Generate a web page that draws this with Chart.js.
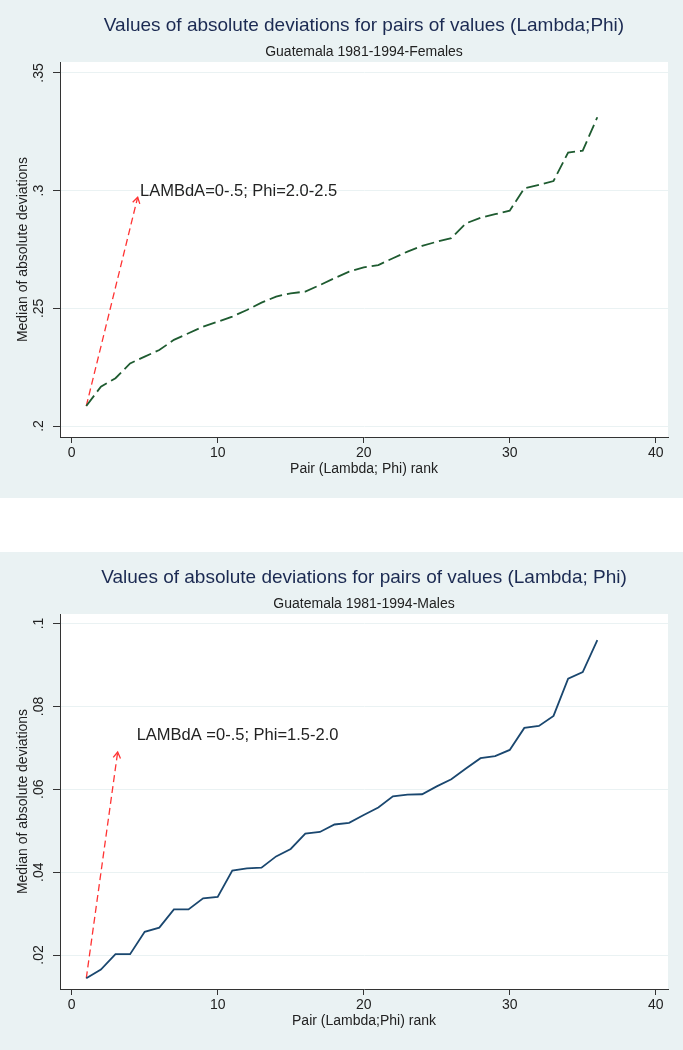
<!DOCTYPE html>
<html lang="en">
<head>
    <meta charset="UTF-8">
    <title>Values of absolute deviations for pairs of values (Lambda;Phi)</title>
    <script src="https://cdn.jsdelivr.net/npm/chart.js"></script>
    <style>
        body { margin: 0; background: #FFFFFF; font-family: 'Liberation Sans', Arial, sans-serif; }
        .panel { position: absolute; left: 0; width: 683px; height: 498px; background: #EAF2F3; }
        #top { top: 0; }
        #bottom { top: 552px; }
    </style>
</head>
<body>
    <div class="panel" id="top"><canvas id="femalesChart" width="683" height="498"></canvas></div>
    <div class="panel" id="bottom"><canvas id="malesChart" width="683" height="498"></canvas></div>

    <script>
        // pair rank (x)
        const ranks = [1, 2, 3, 4, 5, 6, 7, 8, 9, 10, 11, 12, 13, 14, 15, 16, 17, 18,
                       19, 20, 21, 22, 23, 24, 25, 26, 27, 28, 29, 30, 31, 32, 33, 34, 35, 36];

        // median of absolute deviations, females
        const femalesMad = [0.2085, 0.2167, 0.2203, 0.2266, 0.2295, 0.2323, 0.2366, 0.2394, 0.2422,
                            0.2443, 0.2465, 0.2493, 0.2524, 0.2550, 0.2564, 0.2571, 0.2599, 0.2628,
                            0.2656, 0.2674, 0.2684, 0.2713, 0.2741, 0.2765, 0.2783, 0.2798, 0.2861,
                            0.2885, 0.2900, 0.2915, 0.3010, 0.3025, 0.3041, 0.3162, 0.3170, 0.3312];

        // median of absolute deviations, males
        const malesMad = [0.0144, 0.0165, 0.0202, 0.0202, 0.0256, 0.0266, 0.0310, 0.0310, 0.0337,
                          0.0340, 0.0404, 0.0409, 0.0411, 0.0438, 0.0456, 0.0493, 0.0497, 0.0515,
                          0.0519, 0.0538, 0.0556, 0.0583, 0.0587, 0.0588, 0.0607, 0.0624, 0.0650,
                          0.0675, 0.0680, 0.0695, 0.0748, 0.0753, 0.0777, 0.0867, 0.0883, 0.0960];

        const xTicks = [0, 10, 20, 30, 40];
        const femalesYTicks = [0.2, 0.25, 0.3, 0.35];
        const femalesYLabels = ['.2', '.25', '.3', '.35'];
        const malesYTicks = [0.02, 0.04, 0.06, 0.08, 0.1];
        const malesYLabels = ['.02', '.04', '.06', '.08', '.1'];

        // annotation arrows (start, tip) and label anchors
        const femalesArrowX = [1, 4.52];
        const femalesArrowY = [0.2085, 0.2972];
        const femalesNote = 'LAMBdA=0-.5; Phi=2.0-2.5';
        const femalesNoteAt = [4.68, 0.2996];
        const malesArrowX = [1, 3.15];
        const malesArrowY = [0.0144, 0.0690];
        const malesNote = 'LAMBdA =0-.5; Phi=1.5-2.0';
        const malesNoteAt = [4.45, 0.0731];

        const FONT = "'Liberation Sans', Arial, sans-serif";
        const BG = '#EAF2F3';
        const AXIS = '#333333';
        const TEXT = '#222222';

        const stataPlugin = {
            id: 'stata',
            beforeDraw(chart) {
                const { ctx, chartArea: a } = chart;
                ctx.save();
                ctx.fillStyle = '#FFFFFF';
                ctx.fillRect(a.left, a.top, a.right - a.left, a.bottom - a.top);
                ctx.restore();
            },
            afterDraw(chart) {
                const o = chart.options.plugins.stata;
                const { ctx } = chart;
                const xs = chart.scales.x, ys = chart.scales.y;

                // rotated y tick labels
                ctx.save();
                ctx.font = '14px ' + FONT;
                ctx.fillStyle = TEXT;
                ctx.textAlign = 'center';
                ctx.textBaseline = 'middle';
                o.yTicks.forEach((v, i) => {
                    ctx.save();
                    ctx.translate(ys.right - 20.5, ys.getPixelForValue(v));
                    ctx.rotate(-Math.PI / 2);
                    ctx.fillText(o.yLabels[i], 0, 0);
                    ctx.restore();
                });
                ctx.restore();

                // open arrow head
                const x0 = xs.getPixelForValue(o.arrowX[0]), y0 = ys.getPixelForValue(o.arrowY[0]);
                const x1 = xs.getPixelForValue(o.arrowX[1]), y1 = ys.getPixelForValue(o.arrowY[1]);
                const ang = Math.atan2(y1 - y0, x1 - x0);
                const len = 7, spread = 0.55;
                ctx.save();
                ctx.strokeStyle = '#FF3333';
                ctx.lineWidth = 1.3;
                ctx.beginPath();
                ctx.moveTo(x1 - len * Math.cos(ang - spread), y1 - len * Math.sin(ang - spread));
                ctx.lineTo(x1, y1);
                ctx.lineTo(x1 - len * Math.cos(ang + spread), y1 - len * Math.sin(ang + spread));
                ctx.stroke();
                ctx.restore();

                // note text
                ctx.save();
                ctx.font = '16.5px ' + FONT;
                ctx.fillStyle = TEXT;
                ctx.textAlign = 'left';
                ctx.textBaseline = 'middle';
                ctx.fillText(o.note, xs.getPixelForValue(o.noteAt[0]), ys.getPixelForValue(o.noteAt[1]));
                ctx.restore();
            }
        };

        function makeChart(id, cfg) {
            const series = ranks.map((r, i) => ({ x: r, y: cfg.values[i] }));
            const arrow = cfg.arrowX.map((v, i) => ({ x: v, y: cfg.arrowY[i] }));
            return new Chart(document.getElementById(id), {
                type: 'line',
                data: {
                    datasets: [{
                        data: series,
                        borderColor: cfg.color,
                        borderWidth: 1.8,
                        borderDash: cfg.dash,
                        pointRadius: 0,
                        tension: 0
                    }, {
                        data: arrow,
                        borderColor: '#FF3333',
                        borderWidth: 1.3,
                        borderDash: [7, 4],
                        pointRadius: 0,
                        tension: 0
                    }]
                },
                options: {
                    responsive: false,
                    animation: false,
                    devicePixelRatio: 1,
                    layout: { padding: { left: 0, right: 15, top: 0, bottom: 0 } },
                    plugins: {
                        legend: { display: false },
                        tooltip: { enabled: false },
                        title: {
                            display: true,
                            text: cfg.title,
                            fullSize: false,
                            color: '#1B2A52',
                            font: { family: FONT, size: 19, weight: 'normal' },
                            padding: { top: 14.6, bottom: 3 }
                        },
                        subtitle: {
                            display: true,
                            text: cfg.subtitle,
                            fullSize: false,
                            color: TEXT,
                            font: { family: FONT, size: 14 },
                            padding: { top: 3.5, bottom: 1.3 }
                        },
                        stata: {
                            yTicks: cfg.yTicks,
                            yLabels: cfg.yLabels,
                            arrowX: cfg.arrowX,
                            arrowY: cfg.arrowY,
                            note: cfg.note,
                            noteAt: cfg.noteAt
                        }
                    },
                    scales: {
                        x: {
                            type: 'linear',
                            min: -0.8,
                            max: 40.84,
                            afterBuildTicks: s => { s.ticks = xTicks.map(v => ({ value: v })); },
                            afterFit: s => { s.height = 61; },
                            ticks: { color: TEXT, font: { family: FONT, size: 14 }, padding: 2, maxRotation: 0 },
                            grid: { drawOnChartArea: false, tickColor: AXIS, tickLength: 6 },
                            border: { color: AXIS, width: 1 },
                            title: {
                                display: true,
                                text: cfg.xTitle,
                                color: TEXT,
                                font: { family: FONT, size: 14 },
                                padding: { top: 0, bottom: 20.6 }
                            }
                        },
                        y: {
                            type: 'linear',
                            min: cfg.yMin,
                            max: cfg.yMax,
                            afterBuildTicks: s => { s.ticks = cfg.yTicks.map(v => ({ value: v })); },
                            afterFit: s => { s.width = 60; },
                            ticks: { display: false },
                            grid: { color: BG, lineWidth: 1, tickColor: AXIS, tickLength: 7 },
                            border: { color: AXIS, width: 1 },
                            title: {
                                display: true,
                                text: 'Median of absolute deviations',
                                color: TEXT,
                                font: { family: FONT, size: 14 },
                                padding: { top: 14.6, bottom: 0 }
                            }
                        }
                    }
                },
                plugins: [stataPlugin]
            });
        }

        makeChart('femalesChart', {
            title: 'Values of absolute deviations for pairs of values (Lambda;Phi)',
            subtitle: 'Guatemala 1981-1994-Females',
            xTitle: 'Pair (Lambda; Phi) rank',
            values: femalesMad,
            color: '#1E5B30',
            dash: [13, 5],
            yMin: 0.19533,
            yMax: 0.35467,
            yTicks: femalesYTicks,
            yLabels: femalesYLabels,
            arrowX: femalesArrowX,
            arrowY: femalesArrowY,
            note: femalesNote,
            noteAt: femalesNoteAt
        });

        makeChart('malesChart', {
            title: 'Values of absolute deviations for pairs of values (Lambda; Phi)',
            subtitle: 'Guatemala 1981-1994-Males',
            xTitle: 'Pair (Lambda;Phi) rank',
            values: malesMad,
            color: '#1A476F',
            dash: [],
            yMin: 0.0118,
            yMax: 0.1023,
            yTicks: malesYTicks,
            yLabels: malesYLabels,
            arrowX: malesArrowX,
            arrowY: malesArrowY,
            note: malesNote,
            noteAt: malesNoteAt
        });
    </script>
</body>
</html>
